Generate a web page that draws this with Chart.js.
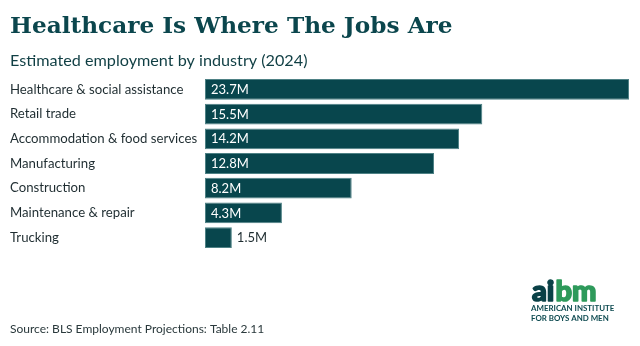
<!DOCTYPE html>
<html>
<head>
<meta charset="utf-8">
<script src="https://cdn.jsdelivr.net/npm/chart.js@4/dist/chart.umd.min.js"></script>
<style>
  html, body { margin: 0; padding: 0; background: #ffffff; }
  #wrap { position: relative; width: 640px; height: 346px; }
</style>
</head>
<body>
<div id="wrap"><canvas id="chart" width="640" height="346"></canvas></div>
<script>
// Estimated employment by industry, 2024 (millions of jobs)
const industries = [
  "Healthcare & social assistance",
  "Retail trade",
  "Accommodation & food services",
  "Manufacturing",
  "Construction",
  "Maintenance & repair",
  "Trucking"
];
const employment = [23.7, 15.5, 14.2, 12.8, 8.2, 4.3, 1.5];
const valueLabels = employment.map(v => v.toFixed(1) + "M");

const titleText = "Healthcare Is Where The Jobs Are";
const subtitleText = "Estimated employment by industry (2024)";
const sourceText = "Source: BLS Employment Projections: Table 2.11";

const TEAL = "#08464d";
const INK = "#1f2d31";
const SANS = "Lato, 'Noto Sans', sans-serif";

// Header, footer and logo drawn on the same canvas
const frame = {
  id: "frame",
  afterDraw(chart) {
    const ctx = chart.ctx;
    ctx.save();
    ctx.textBaseline = "alphabetic";
    ctx.textAlign = "left";

    ctx.fillStyle = "#0b464d";
    ctx.font = "bold 23.2px 'DejaVu Serif', serif";
    ctx.fillText(titleText, 10, 33);

    ctx.fillStyle = "#103f44";
    ctx.font = "16.2px " + SANS;
    ctx.fillText(subtitleText, 10, 66);

    ctx.fillStyle = "#2a393c";
    ctx.font = "12px " + SANS;
    ctx.fillText(sourceText, 10, 333);

    // aibm wordmark, stroked to thicken the letters
    ctx.font = "900 29px " + SANS;
    ctx.lineWidth = 1.6;
    ctx.lineJoin = "round";
    ctx.fillStyle = ctx.strokeStyle = "#0a4147";
    ctx.fillText("ai", 532, 300.5);
    ctx.strokeText("ai", 532, 300.5);
    const w = ctx.measureText("ai").width;
    ctx.fillStyle = ctx.strokeStyle = "#2e9a5b";
    ctx.fillText("bm", 533 + w, 300.5);
    ctx.strokeText("bm", 533 + w, 300.5);

    ctx.fillStyle = "#0d4a50";
    ctx.font = "bold 7.9px " + SANS;
    ctx.fillText("AMERICAN INSTITUTE", 531, 311);
    ctx.fillText("FOR BOYS AND MEN", 531, 321);
    ctx.restore();
  }
};

// Value labels: inside the bar when it fits, otherwise just past its end
const barValues = {
  id: "barValues",
  afterDatasetsDraw(chart) {
    const ctx = chart.ctx;
    const meta = chart.getDatasetMeta(0);
    ctx.save();
    ctx.font = "13px " + SANS;
    ctx.textBaseline = "middle";
    ctx.textAlign = "left";
    meta.data.forEach((bar, i) => {
      const text = valueLabels[i];
      const width = bar.x - bar.base;
      const tw = ctx.measureText(text).width;
      if (width > tw + 10) {
        ctx.fillStyle = "#ffffff";
        ctx.fillText(text, bar.base + 6, bar.y + 0.5);
      } else {
        ctx.fillStyle = INK;
        ctx.fillText(text, bar.x + 5, bar.y + 0.5);
      }
    });
    ctx.restore();
  }
};

new Chart(document.getElementById("chart"), {
  type: "bar",
  data: {
    labels: industries,
    datasets: [{
      data: employment,
      backgroundColor: TEAL,
      borderColor: "#4e8185",
      borderWidth: 1,
      borderSkipped: false,
      categoryPercentage: 0.84,
      barPercentage: 1.0
    }]
  },
  options: {
    indexAxis: "y",
    responsive: false,
    animation: false,
    devicePixelRatio: 1,
    layout: { padding: { left: 10, right: 11, top: 77, bottom: 96 } },
    plugins: {
      legend: { display: false },
      tooltip: { enabled: false }
    },
    scales: {
      x: {
        display: false,
        min: 0,
        max: Math.max(...employment)
      },
      y: {
        grid: { display: false },
        border: { display: false },
        ticks: {
          crossAlign: "far",
          color: INK,
          padding: 0,
          font: { family: SANS, size: 13.2 }
        },
        afterFit(scale) { scale.width = 195; }
      }
    }
  },
  plugins: [frame, barValues]
});
</script>
</body>
</html>
